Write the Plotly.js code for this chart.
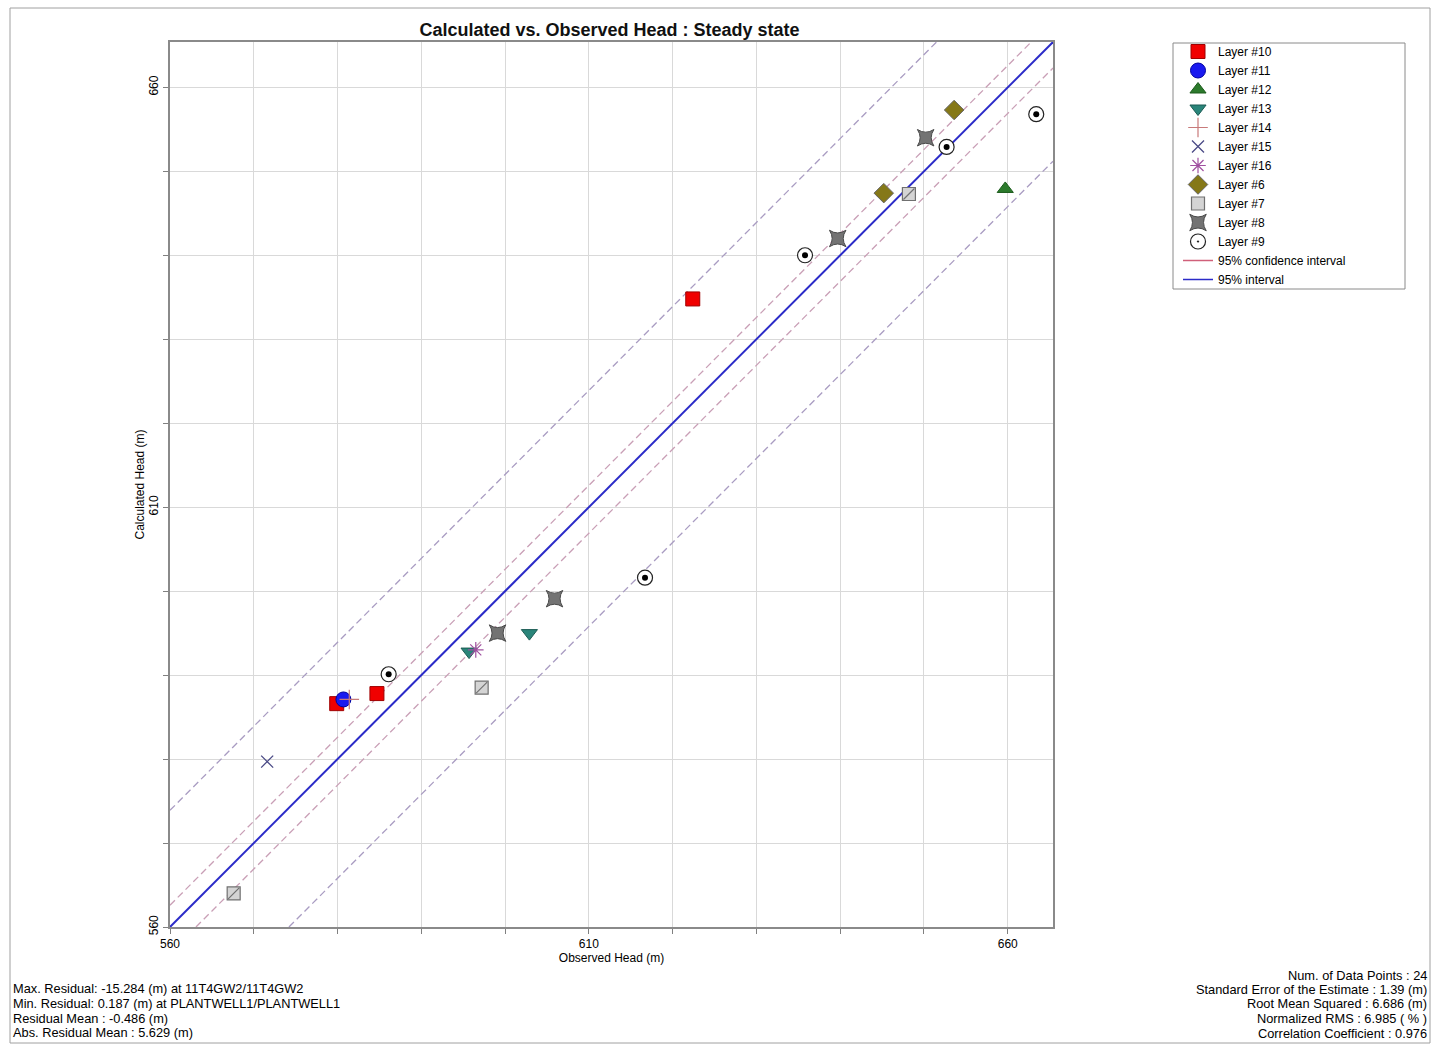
<!DOCTYPE html>
<html>
<head>
<meta charset="utf-8">
<script src="https://cdn.plot.ly/plotly-3.0.1.min.js"></script>
<style>
  html, body { margin: 0; padding: 0; background: #ffffff; }
  #chart { width: 1436px; height: 1045px; }
</style>
</head>
<body>
<div id="chart"></div>
<script>
// ---------- DATA ----------
const layerNames = ['Layer #10', 'Layer #11', 'Layer #12', 'Layer #13', 'Layer #14', 'Layer #15',
                    'Layer #16', 'Layer #6', 'Layer #7', 'Layer #8', 'Layer #9'];

const obsL10 = [579.9, 584.7, 622.4];
const calcL10 = [586.6, 587.8, 634.8];
const obsL11 = [580.7];
const calcL11 = [587.1];
const obsL12 = [659.7];
const calcL12 = [647.9];
const obsL13 = [595.7, 602.9];
const calcL13 = [592.8, 595.0];
const obsL14 = [581.4];
const calcL14 = [587.1];
const obsL15 = [571.6];
const calcL15 = [579.7];
const obsL16 = [596.5];
const calcL16 = [593.0];
const obsL6 = [645.2, 653.6];
const calcL6 = [647.4, 657.3];
const obsL7 = [567.6, 597.2, 648.2];
const calcL7 = [564.0, 588.5, 647.3];
const obsL8 = [599.1, 605.9, 639.7, 650.2];
const calcL8 = [595.0, 599.1, 642.0, 654.0];
const obsL9 = [586.1, 616.7, 635.8, 652.7, 663.4];
const calcL9 = [590.1, 601.6, 640.0, 652.9, 656.8];

// offsets (m) of the dashed interval lines from the 1:1 line
const confidenceOffsets = [2.6, -3.1];
const intervalOffsets = [13.9, -14.2];

const axisRange = [560, 665.4];
const tickValues = [560, 570, 580, 590, 600, 610, 620, 630, 640, 650, 660];
const tickLabels = ['560', '', '', '', '', '610', '', '', '', '', '660'];

const statsLeft = ['Max. Residual: -15.284 (m) at 11T4GW2/11T4GW2',
                   'Min. Residual: 0.187 (m) at PLANTWELL1/PLANTWELL1',
                   'Residual Mean : -0.486 (m)',
                   'Abs. Residual Mean : 5.629 (m)'];
const statsRight = ['Num. of Data Points : 24',
                    'Standard Error of the Estimate : 1.39 (m)',
                    'Root Mean Squared : 6.686 (m)',
                    'Normalized RMS : 6.985 ( % )',
                    'Correlation Coefficient : 0.976'];

// ---------- BUILD ----------
function offsetLine(d) {
  const x0 = Math.max(axisRange[0], axisRange[0] - d);
  const x1 = Math.min(axisRange[1], axisRange[1] - d);
  return { x: [x0, x1], y: [x0 + d, x1 + d] };
}

const traces = [];
intervalOffsets.forEach(d => {
  const l = offsetLine(d);
  traces.push({ x: l.x, y: l.y, mode: 'lines', showlegend: false, hoverinfo: 'skip',
    line: { color: '#a99cc2', width: 1.3, dash: '7px,4px' } });
});
confidenceOffsets.forEach(d => {
  const l = offsetLine(d);
  traces.push({ x: l.x, y: l.y, mode: 'lines', showlegend: false, hoverinfo: 'skip',
    line: { color: '#c99fb6', width: 1.3, dash: '7px,4px' } });
});
const one = offsetLine(0);
traces.push({ x: one.x, y: one.y, mode: 'lines', showlegend: false, hoverinfo: 'skip',
  line: { color: '#2b2bc8', width: 2 } });

function pts(name, x, y, marker, extra) {
  return Object.assign({ name: name, x: x, y: y, mode: 'markers', type: 'scatter', marker: marker }, extra || {});
}

traces.push(pts(layerNames[0], obsL10, calcL10, { symbol: 'square', size: 14, color: '#f00000', line: { color: '#a00000', width: 1 } }));
traces.push(pts(layerNames[1], obsL11, calcL11, { symbol: 'circle', size: 15, color: '#1a1af0', line: { color: '#0000a0', width: 1 } }));
traces.push(pts(layerNames[2], obsL12, calcL12, { symbol: 'triangle-up', size: 14, color: '#2c7a2c', line: { color: '#1a5a1a', width: 1 } }));
traces.push(pts(layerNames[3], obsL13, calcL13, { symbol: 'triangle-down', size: 14, color: '#2a857a', line: { color: '#1a5a52', width: 1 } }));
traces.push(pts(layerNames[4], obsL14, calcL14, { symbol: 'cross-thin-open', size: 14, color: '#c87a7a', line: { color: '#c87a7a', width: 1.2 } }));
traces.push(pts(layerNames[5], obsL15, calcL15, { symbol: 'x-thin-open', size: 12, color: '#4a4a86', line: { color: '#4a4a86', width: 1.3 } }));
traces.push(pts(layerNames[6], obsL16, calcL16, { symbol: 'asterisk-open', size: 13, color: '#a050a0', line: { color: '#a050a0', width: 1.2 } }));
traces.push(pts(layerNames[7], obsL6, calcL6, { symbol: 'diamond', size: 15, color: '#857818', line: { color: '#666666', width: 1 } }));
traces.push(pts(layerNames[8], obsL7, calcL7, { symbol: 'square', size: 13, color: '#d4d4d4', line: { color: '#707070', width: 1.2 } }));
traces.push(pts(layerNames[8], obsL7, calcL7, { symbol: 'line-ne-open', size: 11, color: '#707070', line: { color: '#707070', width: 1.2 } }, { showlegend: false, hoverinfo: 'skip' }));
traces.push(pts(layerNames[9], obsL8, calcL8, { symbol: 'star-square', size: 15, color: '#737373', line: { color: '#4a4a4a', width: 1 } }));
traces.push(pts(layerNames[10], obsL9, calcL9, { symbol: 'circle-dot', size: 15, color: '#ffffff', line: { color: '#222222', width: 1.2 } }));
traces.push(pts(layerNames[10], obsL9, calcL9, { symbol: 'circle', size: 6, color: '#000000', line: { width: 0 } }, { showlegend: false, hoverinfo: 'skip' }));

traces.push({ name: '95% confidence interval', x: [null], y: [null], mode: 'lines', line: { color: '#d0607a', width: 1.5 } });
traces.push({ name: '95% interval', x: [null], y: [null], mode: 'lines', line: { color: '#2b2bc8', width: 1.5 } });

const L = 170, R = 1053, T = 42, B = 927;
const W = R - L, H = B - T;
const px = v => (v - L) / W;
const py = v => (B - v) / H;

const axisCommon = {
  range: axisRange, autorange: false,
  tickmode: 'array', tickvals: tickValues, ticktext: tickLabels,
  ticks: 'outside', ticklen: 5, tickcolor: '#808080', tickwidth: 1,
  showgrid: true, gridcolor: '#d9d9d9', gridwidth: 1,
  showline: true, linecolor: '#8a8a8a', linewidth: 2, mirror: true,
  zeroline: false,
  tickfont: { family: 'Arial, Liberation Sans, sans-serif', size: 12, color: '#000000' }
};

const textFont = { family: 'Arial, Liberation Sans, sans-serif', size: 12.8, color: '#000000' };
const annotations = [];
statsLeft.forEach((t, i) => {
  annotations.push({ xref: 'paper', yref: 'paper', x: px(11), y: py(989 + i * 14.6), xanchor: 'left', yanchor: 'middle',
    showarrow: false, text: t, font: textFont });
});
statsRight.forEach((t, i) => {
  annotations.push({ xref: 'paper', yref: 'paper', x: px(1429), y: py(975 + i * 14.5), xanchor: 'right', yanchor: 'middle',
    showarrow: false, text: t, font: textFont });
});

const layout = {
  width: 1436, height: 1045,
  paper_bgcolor: '#ffffff', plot_bgcolor: '#ffffff',
  margin: { l: L, r: 1436 - R, t: T, b: 1045 - B, pad: 0 },
  font: { family: 'Arial, Liberation Sans, sans-serif', size: 12, color: '#000000' },
  title: {
    text: '<b>Calculated vs. Observed Head : Steady state</b>',
    font: { family: 'Arial, Liberation Sans, sans-serif', size: 18, color: '#111111' },
    x: (L + W / 2 - 2) / 1436, xanchor: 'center', y: 1 - 30 / 1045, yanchor: 'middle'
  },
  xaxis: Object.assign({}, axisCommon, {
    title: { text: 'Observed Head (m)', font: { size: 12 }, standoff: 2 }
  }),
  yaxis: Object.assign({}, axisCommon, {
    tickangle: -90,
    title: { text: 'Calculated Head (m)', font: { size: 12 }, standoff: 0 }
  }),
  showlegend: true,
  legend: {
    x: px(1178), y: py(37), xanchor: 'left', yanchor: 'top',
    borderwidth: 0, bgcolor: 'rgba(255,255,255,0)',
    font: { size: 12, color: '#000000' },
    tracegroupgap: 0, itemwidth: 30
  },
  shapes: [
    { type: 'rect', xref: 'paper', yref: 'paper', x0: px(10), x1: px(1430), y0: py(1043), y1: py(8),
      line: { color: '#a0a0a0', width: 1 }, fillcolor: 'rgba(0,0,0,0)', layer: 'below' },
    { type: 'rect', xref: 'paper', yref: 'paper', x0: px(1173), x1: px(1405), y0: py(289), y1: py(43),
      line: { color: '#8a8a8a', width: 1 }, fillcolor: 'rgba(0,0,0,0)', layer: 'below' }
  ],
  annotations: annotations
};

Plotly.newPlot('chart', traces, layout, { displayModeBar: false, staticPlot: true });
</script>
</body>
</html>
